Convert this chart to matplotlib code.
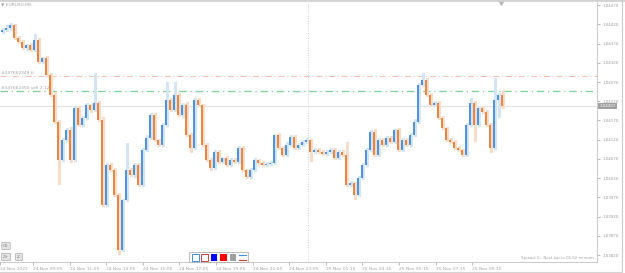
import matplotlib
matplotlib.use("Agg")
import matplotlib.pyplot as plt
from matplotlib.patches import Rectangle
from matplotlib.lines import Line2D
import matplotlib.transforms as mtransforms
import numpy as np

# EURUSD M5 closes (one value per ~13 minutes)
closes = [1.04405, 1.04410, 1.04418, 1.04384, 1.04374, 1.04358, 1.04366, 1.04353, 1.04379, 1.04322,
          1.04332, 1.04288, 1.04236, 1.04166, 1.04067, 1.04119, 1.04145, 1.04067, 1.04202, 1.04158,
          1.04176, 1.04210, 1.04197, 1.04215, 1.04171, 1.03950, 1.04054, 1.04041, 1.03976, 1.03833,
          1.03963, 1.04041, 1.04028, 1.04054, 1.04002, 1.04093, 1.04124, 1.04184, 1.04119, 1.04106,
          1.04158, 1.04223, 1.04197, 1.04236, 1.04184, 1.04210, 1.04132, 1.04098, 1.04223, 1.04210,
          1.04106, 1.04067, 1.04046, 1.04088, 1.04062, 1.04072, 1.04054, 1.04067, 1.04062, 1.04098,
          1.04041, 1.04023, 1.04041, 1.04067, 1.04059, 1.04054, 1.04057, 1.04059, 1.04132, 1.04098,
          1.04080, 1.04106, 1.04127, 1.04098, 1.04106, 1.04114, 1.04119, 1.04088, 1.04093, 1.04088,
          1.04083, 1.04088, 1.04093, 1.04072, 1.04088, 1.04080, 1.04002, 1.04007, 1.03976, 1.04020,
          1.04054, 1.04093, 1.04140, 1.04080, 1.04119, 1.04106, 1.04124, 1.04114, 1.04145, 1.04093,
          1.04119, 1.04106, 1.04132, 1.04166, 1.04262, 1.04275, 1.04236, 1.04210, 1.04215, 1.04176,
          1.04150, 1.04119, 1.04114, 1.04098, 1.04093, 1.04080, 1.04158, 1.04215, 1.04158, 1.04202,
          1.04192, 1.04158, 1.04098, 1.04223, 1.04236, 1.04207]
first_open = 1.04400

# wick sizes in points (0.00001)
up_pts = [5, 8, 6, 4, 5, 6, 4, 6, 16, 5, 4, 6, 5, 8, 4, 6, 5, 7, 5, 6,
          5, 6, 4, 78, 5, 8, 6, 5, 6, 5, 4, 70, 6, 5, 6, 5, 7, 5, 6, 4,
          6, 47, 5, 34, 6, 5, 7, 5, 6, 5, 4, 6, 5, 6, 5, 4, 5, 6, 5, 6,
          5, 4, 6, 5, 4, 5, 6, 5, 4, 6, 5, 7, 5, 6, 5, 6, 5, 4, 5, 6,
          5, 4, 6, 5, 5, 6, 34, 5, 4, 6, 5, 6, 5, 7, 6, 5, 6, 5, 4, 6,
          5, 6, 5, 7, 6, 18, 5, 6, 5, 6, 5, 4, 6, 5, 5, 4, 6, 13, 5, 6,
          5, 6, 5, 57, 6, 12]
dn_pts = [6, 5, 7, 5, 6, 5, 8, 6, 5, 4, 6, 5, 6, 5, 65, 6, 5, 8, 6, 5,
          6, 5, 7, 5, 6, 5, 4, 6, 5, 13, 6, 5, 6, 7, 5, 6, 5, 6, 5, 6,
          5, 6, 5, 6, 5, 7, 5, 13, 6, 5, 6, 5, 7, 5, 6, 5, 4, 6, 5, 6,
          5, 6, 5, 4, 6, 5, 6, 5, 6, 5, 4, 6, 5, 6, 5, 6, 5, 26, 5, 6,
          5, 6, 5, 4, 6, 5, 6, 5, 13, 6, 5, 6, 5, 6, 4, 6, 5, 6, 5, 6,
          6, 5, 4, 6, 5, 6, 5, 6, 5, 6, 5, 4, 6, 5, 6, 5, 6, 5, 44, 6,
          5, 6, 13, 6, 47, 6]

price_ticks = [1.03820, 1.03870, 1.03920, 1.03970, 1.04020, 1.04070, 1.04120,
               1.04170, 1.04220, 1.04270, 1.04320, 1.04370, 1.04420, 1.04470]
time_labels = ["24 Nov 2022", "24 Nov 09:05", "24 Nov 11:05", "24 Nov 13:05", "24 Nov 15:05",
               "24 Nov 17:05", "24 Nov 19:05", "24 Nov 21:05", "24 Nov 23:05", "25 Nov 01:15",
               "25 Nov 03:15", "25 Nov 05:15", "25 Nov 07:15", "25 Nov 09:15"]

tp_price = 1.04285   # #347662349 tl
sell_price = 1.04246  # #347662350 sell
bid_price = 1.04207

W, H = 625, 273
fig = plt.figure(figsize=(W / 100, H / 100), dpi=100)
fig.patch.set_facecolor("white")

def fx(x):
    return x / W

def fy(y):
    return 1 - y / H

ax = fig.add_axes([0, fy(262), fx(597), fy(2) - fy(262)])
ax.set_facecolor("white")

n = len(closes)
x = np.arange(n)
c = np.array(closes)
o = np.concatenate([[first_open], c[:-1]])
hi = np.maximum(o, c) + np.array(up_pts) * 1e-5
lo = np.minimum(o, c) - np.array(dn_pts) * 1e-5
up = c >= o

blue, orange = "#4f92dd", "#ea8644"
pale_b, pale_o = "#d3e4f7", "#f8dcc8"
col = np.where(up, blue, orange)
pale = np.where(up, pale_b, pale_o)

# pale ghost bars, then wicks, then bodies
ax.bar(x + 0.3, hi - lo, bottom=lo, width=0.7, color=pale, linewidth=0, zorder=2)
ax.vlines(x, lo, hi, colors=pale, linewidth=0.6, zorder=3)
body = np.maximum(np.abs(c - o), 0.00002)
ax.bar(x, body, bottom=np.minimum(o, c), width=0.32, color=col, linewidth=0, zorder=4)

# order / price lines
ax.axhline(tp_price, color="#f6bcaa", lw=0.7, ls=(0, (6, 3, 1, 3)), zorder=1)
ax.axhline(sell_price, color="#7bd198", lw=0.9, ls=(0, (6, 3, 1, 3)), zorder=1)
ax.axhline(bid_price, color="#e0e0e0", lw=0.8, zorder=1)
ax.text(-0.2, tp_price + 0.00003, "#347662349 tl", fontsize=3.2, color="#a0a0a0", va="bottom", zorder=5)
ax.text(-0.2, sell_price + 0.00003, "#347662350 sell 2.12", fontsize=3.2, color="#a0a0a0", va="bottom", zorder=5)

# day separator
ax.axvline(76.6, color="#cccccc", lw=0.7, ls=(0, (1, 1.5)), zorder=1)

ax.set_xlim(-0.5, 148.75)
ax.set_ylim(1.03802, 1.04478)

# price axis
ax.yaxis.tick_right()
ax.set_yticks(price_ticks)
ax.set_yticklabels([f"{p:.5f}" for p in price_ticks])
ax.tick_params(axis="y", labelsize=2.9, colors="#999999", length=2, width=0.5, pad=2)

# time axis
tick_pos = [-0.5] + [7.75 + 9.15 * k for k in range(len(time_labels) - 1)]
ax.set_xticks(tick_pos)
ax.set_xticklabels(time_labels)
ax.tick_params(axis="x", labelsize=3.2, colors="#a0a0a0", length=2, width=0.5, pad=1.5)
for lab in ax.get_xticklabels():
    lab.set_ha("left")

for s in ["top", "left"]:
    ax.spines[s].set_visible(False)
for s in ["right", "bottom"]:
    ax.spines[s].set_color("#c0c0c0")
    ax.spines[s].set_linewidth(0.6)

# bid label on the price scale
trans = mtransforms.blended_transform_factory(ax.transAxes, ax.transData)
ax.text(1.004, bid_price, "1.04207", transform=trans, fontsize=2.9, color="white", va="center", ha="left",
        bbox=dict(boxstyle="square,pad=0.25", fc="#a0a0a0", ec="none"), clip_on=False, zorder=6)

# shift marker at top
ax.plot([124.8], [1.04476], marker="v", ms=2.5, color="#b8b8b8", clip_on=False, zorder=6)

# window frame lines
fig.add_artist(Line2D([0, 1], [fy(0.7), fy(0.7)], color="#cccccc", lw=1.2))
fig.add_artist(Line2D([fx(622), fx(622)], [fy(0), fy(272)], color="#cccccc", lw=0.8))
fig.add_artist(Line2D([0, fx(622)], [fy(272), fy(272)], color="#d4d4d4", lw=0.8))

# symbol caption
fig.text(fx(1), fy(5), "▼ EURUSD,M5", fontsize=3.2, color="#a0a0a0", va="center", ha="left")

# chart buttons bottom left
for lbl, bx, by in [("CS", 6, 246), ("Z+", 6, 257), ("Z-", 19, 257)]:
    fig.text(fx(bx), fy(by), lbl, fontsize=3, color="#777777", ha="center", va="center",
             bbox=dict(boxstyle="round,pad=0.35,rounding_size=0.2", fc="#e6e6e6", ec="#a8a8a8", lw=0.5))

# toolbar at bottom
fig.add_artist(Rectangle((fx(189), fy(262)), fx(59), fy(252) - fy(262), fc="white", ec="#b0b0b0", lw=0.6))
fig.add_artist(Rectangle((fx(192), fy(261)), fx(7), fy(254) - fy(261), fc="white", ec="#3d8fe8", lw=0.7))
fig.add_artist(Rectangle((fx(201), fy(261)), fx(7), fy(254) - fy(261), fc="white", ec="#d04040", lw=0.7))
fig.add_artist(Rectangle((fx(211), fy(261)), fx(6), fy(254) - fy(261), fc="#0000ff", ec="none"))
fig.add_artist(Rectangle((fx(220), fy(261)), fx(7), fy(254) - fy(261), fc="#ff0000", ec="none"))
fig.add_artist(Rectangle((fx(230), fy(261)), fx(6), fy(254) - fy(261), fc="#a0a0a0", ec="none"))
fig.add_artist(Line2D([fx(239), fx(246)], [fy(255), fy(255)], color="#3d8fe8", lw=0.8))
fig.add_artist(Line2D([fx(239), fx(246)], [fy(260), fy(260)], color="#d04040", lw=0.8))

# status text
fig.text(fx(596), fy(258), "Spread: 6.. Next bar in 01:52 minutes.", fontsize=2.8, color="#a0a0a0",
         ha="right", va="center")

fig.savefig("out.png", dpi=100, facecolor="white")
